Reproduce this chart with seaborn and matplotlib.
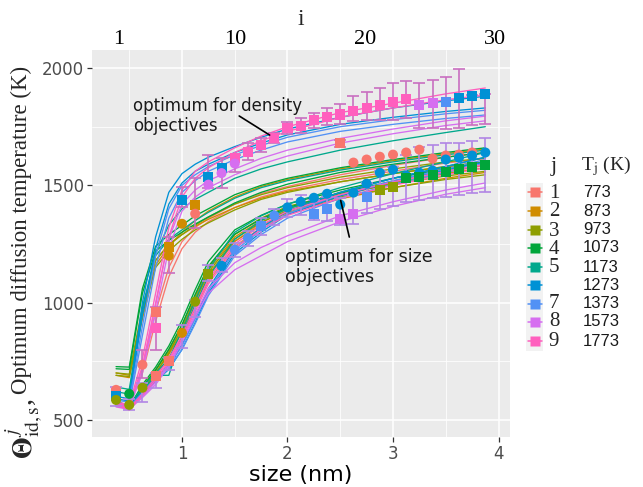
import numpy as np
import pandas as pd
import matplotlib
matplotlib.use("Agg")
import matplotlib.pyplot as plt
from matplotlib.lines import Line2D
from matplotlib.patches import Rectangle
import seaborn as sns

sns.set_theme(style="darkgrid")
plt.rcParams["font.family"] = ["DejaVu Sans"]
plt.rcParams["font.serif"] = ["Liberation Serif", "DejaVu Serif"]
plt.rcParams["mathtext.fontset"] = "stix"

# ---- temperature levels -------------------------------------------------
j_levels = [1, 2, 3, 4, 5, 6, 7, 8, 9]
j_marks = ["1", "2", "3", "4", "5", "", "7", "8", "9"]
T_levels = [773, 873, 973, 1073, 1173, 1273, 1373, 1573, 1773]
j_colors = ["#F8766D", "#D08C00", "#8E9E00", "#00A53A", "#00A88C",
            "#0091D5", "#5291F5", "#D66EF0", "#FF5FBE"]

# ---- optimum curves (two runs per level) ---------------------------------
knots = [0.375, 0.5, 0.625, 0.75, 0.875, 1.0, 1.125, 1.25, 1.5, 1.75, 2.0, 2.5, 3.0, 3.5, 3.875]

density_j1 = [[560, 555, 720, 960, 1150, 1260, 1320, 1360, 1420, 1465, 1495, 1545, 1585, 1620, 1640],
              [575, 565, 700, 920, 1110, 1230, 1300, 1345, 1405, 1450, 1480, 1525, 1560, 1595, 1615]]
density_j2 = [[690, 680, 930, 1160, 1240, 1300, 1350, 1390, 1450, 1495, 1525, 1570, 1605, 1635, 1655],
              [700, 690, 960, 1180, 1250, 1290, 1325, 1355, 1405, 1445, 1475, 1515, 1550, 1580, 1600]]
density_j3 = [[690, 685, 950, 1150, 1220, 1270, 1310, 1340, 1395, 1440, 1470, 1515, 1550, 1580, 1600],
              [700, 695, 980, 1180, 1245, 1290, 1330, 1365, 1420, 1460, 1490, 1535, 1570, 1600, 1615]]
density_j4 = [[727, 725, 1060, 1240, 1290, 1330, 1370, 1400, 1460, 1500, 1530, 1575, 1610, 1640, 1660],
              [718, 715, 1040, 1220, 1265, 1300, 1335, 1365, 1425, 1470, 1505, 1555, 1590, 1620, 1640]]
density_j5 = [[620, 610, 950, 1210, 1330, 1400, 1440, 1470, 1530, 1570, 1600, 1650, 1690, 1725, 1750],
              [640, 630, 980, 1200, 1270, 1310, 1350, 1385, 1445, 1490, 1520, 1565, 1600, 1630, 1650]]
density_j6 = [[600, 590, 1000, 1280, 1470, 1550, 1590, 1620, 1665, 1705, 1740, 1790, 1830, 1860, 1880],
              [590, 580, 950, 1230, 1420, 1510, 1560, 1590, 1640, 1680, 1715, 1760, 1790, 1815, 1830]]
density_j7 = [[585, 575, 900, 1200, 1400, 1500, 1545, 1580, 1630, 1670, 1705, 1750, 1780, 1805, 1820],
              [575, 565, 860, 1150, 1360, 1470, 1520, 1560, 1610, 1650, 1685, 1730, 1760, 1785, 1800]]
density_j8 = [[565, 555, 720, 1000, 1270, 1420, 1480, 1520, 1570, 1615, 1650, 1700, 1740, 1775, 1795],
              [560, 550, 700, 960, 1230, 1390, 1450, 1490, 1545, 1590, 1625, 1680, 1720, 1755, 1775]]
density_j9 = [[575, 565, 760, 1040, 1320, 1480, 1560, 1600, 1660, 1710, 1750, 1810, 1850, 1890, 1915],
              [570, 560, 730, 990, 1280, 1450, 1530, 1575, 1640, 1690, 1730, 1790, 1830, 1865, 1885]]

size_j1 = [[590, 545, 625, 700, 780, 870, 990, 1110, 1260, 1340, 1400, 1470, 1530, 1575, 1600],
           [578, 540, 610, 688, 765, 855, 975, 1090, 1240, 1320, 1380, 1455, 1510, 1555, 1585]]
size_j2 = [[582, 550, 640, 715, 790, 890, 1020, 1140, 1280, 1350, 1400, 1460, 1510, 1550, 1575],
           [572, 545, 628, 700, 780, 875, 1005, 1120, 1262, 1330, 1385, 1442, 1490, 1530, 1555]]
size_j3 = [[576, 550, 638, 712, 800, 905, 1030, 1150, 1290, 1360, 1410, 1465, 1505, 1540, 1560],
           [566, 545, 625, 700, 785, 890, 1010, 1130, 1272, 1342, 1392, 1450, 1490, 1525, 1545]]
size_j4 = [[580, 555, 650, 725, 815, 925, 1055, 1175, 1310, 1372, 1420, 1480, 1530, 1570, 1600],
           [570, 550, 640, 712, 800, 905, 1035, 1155, 1292, 1356, 1405, 1468, 1518, 1560, 1590]]
size_j5 = [[572, 560, 640, 700, 760, 880, 1010, 1140, 1300, 1370, 1420, 1490, 1550, 1600, 1640],
           [566, 550, 625, 690, 690, 860, 990, 1110, 1270, 1350, 1400, 1470, 1530, 1580, 1620]]
size_j6 = [[575, 560, 620, 678, 735, 820, 935, 1060, 1230, 1320, 1390, 1470, 1530, 1580, 1620],
           [565, 550, 610, 665, 715, 800, 915, 1040, 1210, 1300, 1375, 1455, 1515, 1565, 1600]]
size_j7 = [[570, 555, 615, 672, 730, 815, 930, 1050, 1220, 1310, 1380, 1460, 1520, 1570, 1610],
           [560, 548, 605, 662, 720, 800, 910, 1030, 1200, 1290, 1360, 1445, 1505, 1555, 1595]]
size_j8 = [[560, 550, 600, 660, 740, 840, 950, 1060, 1170, 1235, 1285, 1370, 1430, 1480, 1510],
           [555, 545, 595, 650, 730, 830, 940, 1040, 1140, 1200, 1260, 1345, 1410, 1462, 1490]]
size_j9 = [[565, 550, 612, 680, 760, 860, 980, 1100, 1250, 1330, 1390, 1460, 1515, 1560, 1590],
           [560, 545, 605, 670, 750, 848, 962, 1080, 1232, 1312, 1372, 1445, 1500, 1545, 1575]]

density_runs = [density_j1, density_j2, density_j3, density_j4, density_j5,
                density_j6, density_j7, density_j8, density_j9]
size_runs = [size_j1, size_j2, size_j3, size_j4, size_j5,
             size_j6, size_j7, size_j8, size_j9]

# ---- optimum points: density objectives ----------------------------------
dpt_size = [0.375, 0.625, 0.75, 0.75, 0.875, 0.875, 1.0, 1.0, 1.125, 1.125,
            1.25, 1.25, 1.375, 1.375, 1.5, 1.5, 1.625, 1.75, 1.875, 2.0,
            2.125, 2.25, 2.375, 2.5, 2.5, 2.625, 2.625, 2.75, 2.75, 2.875,
            2.875, 3.0, 3.0, 3.125, 3.125, 3.25, 3.25, 3.375, 3.375, 3.5,
            3.5, 3.625, 3.625, 3.75, 3.75, 3.875]
dpt_temp = [615, 735, 961, 893, 1238, 1200, 1336, 1439, 1418, 1379,
            1537, 1503, 1573, 1552, 1618, 1593, 1644, 1672, 1703, 1746,
            1755, 1778, 1793, 1802, 1682, 1815, 1597, 1831, 1610, 1844,
            1622, 1857, 1631, 1870, 1640, 1844, 1652, 1852, 1614, 1854,
            1627, 1874, 1631, 1880, 1640, 1891]
dpt_j = [9, 1, 1, 9, 2, 2, 2, 6, 2, 1,
         6, 8, 6, 8, 9, 8, 9, 9, 9, 9,
         9, 9, 9, 9, 1, 9, 1, 9, 1, 9,
         1, 9, 1, 9, 1, 8, 1, 8, 1, 7,
         1, 6, 1, 6, 1, 6]
dpt_shape = ["s", "o", "s", "s", "s", "o", "o", "s", "s", "o",
             "s", "o", "s", "o", "s", "o", "s", "s", "s", "s",
             "s", "s", "s", "s", "s", "s", "o", "s", "o", "s",
             "o", "s", "o", "s", "o", "s", "o", "s", "o", "s",
             "o", "s", "o", "s", "o", "s"]

# ---- optimum points: size objectives -------------------------------------
spt_size = [0.375, 0.375, 0.375, 0.5, 0.5, 0.625, 0.75, 0.875, 1.0, 1.125,
            1.25, 1.375, 1.5, 1.625, 1.75, 1.875, 2.0, 2.125, 2.25, 2.25,
            2.375, 2.375, 2.5, 2.5, 2.625, 2.625, 2.75, 2.75, 2.875, 2.875,
            3.0, 3.0, 3.125, 3.125, 3.25, 3.25, 3.375, 3.375, 3.5, 3.5,
            3.625, 3.625, 3.75, 3.75, 3.875, 3.875]
spt_temp = [628, 600, 585, 611, 564, 637, 688, 752, 871, 1004,
            1123, 1157, 1226, 1276, 1328, 1371, 1406, 1430, 1447, 1379,
            1464, 1400, 1418, 1358, 1469, 1379, 1507, 1452, 1554, 1482,
            1567, 1494, 1541, 1533, 1554, 1537, 1563, 1546, 1610, 1558,
            1618, 1571, 1627, 1580, 1640, 1588]
spt_j = [1, 6, 3, 4, 3, 3, 1, 1, 2, 3,
         3, 6, 7, 7, 7, 7, 6, 6, 6, 7,
         6, 7, 6, 8, 6, 8, 6, 7, 6, 3,
         6, 3, 6, 4, 6, 4, 6, 4, 6, 4,
         6, 4, 6, 4, 6, 4]
spt_shape = ["o", "s", "o", "o", "o", "o", "s", "s", "o", "o",
             "s", "o", "o", "o", "s", "o", "o", "o", "o", "s",
             "o", "s", "o", "s", "o", "s", "o", "s", "o", "s",
             "o", "s", "o", "s", "o", "s", "o", "s", "o", "s",
             "o", "s", "o", "s", "o", "s"]

# ---- spread of the optimum over runs (low / high) ------------------------
dbar_size = [0.625, 0.75, 0.875, 1.0, 1.125, 1.25, 1.375, 1.5, 1.625, 1.75,
             1.875, 2.0, 2.125, 2.25, 2.375, 2.5, 2.5, 2.625, 2.75, 2.875,
             3.0, 3.125, 3.25, 3.375, 3.5, 3.625, 3.75, 3.875]
dbar_low = [680, 800, 1127, 1409, 1320, 1490, 1490, 1558, 1610, 1640,
            1680, 1720, 1725, 1745, 1759, 1760, 1665, 1776, 1780, 1780,
            1780, 1785, 1746, 1746, 1740, 1746, 1759, 1762]
dbar_high = [800, 980, 1280, 1494, 1530, 1630, 1618, 1630, 1680, 1700,
             1725, 1770, 1785, 1810, 1829, 1845, 1695, 1883, 1900, 1915,
             1935, 1945, 1938, 1951, 1960, 1994, 1885, 1890]

sbar_size = [0.375, 0.5, 0.625, 0.75, 0.875, 1.0, 1.125, 1.25, 1.375, 1.5,
             1.625, 1.75, 1.875, 2.0, 2.125, 2.25, 2.375, 2.5, 2.625, 2.75,
             2.875, 3.0, 3.125, 3.25, 3.375, 3.5, 3.625, 3.75, 3.875]
sbar_low = [560, 540, 577, 637, 713, 807, 940, 1090, 1130, 1195,
            1240, 1290, 1330, 1365, 1375, 1354, 1350, 1332, 1335, 1383,
            1400, 1410, 1430, 1439, 1447, 1452, 1460, 1469, 1473]
sbar_high = [640, 590, 658, 700, 765, 905, 1012, 1160, 1190, 1255,
             1305, 1360, 1400, 1440, 1460, 1439, 1450, 1447, 1460, 1511,
             1560, 1580, 1630, 1665, 1673, 1680, 1682, 1691, 1703]

# top axis: index i of the size class
I1_SIZE, I_STEP = 0.40, 0.1231
i_ticks = [1, 10, 20, 30]

# ---- long-form tables ----------------------------------------------------
rows = []
for grp, runs in (("d", density_runs), ("s", size_runs)):
    for j, pair in zip(j_levels, runs):
        for r, vals in enumerate(pair):
            for x, y in zip(knots, vals):
                rows.append({"size": x, "temp": y, "j": j, "run": f"{grp}{j}{r}"})
lines_df = pd.DataFrame(rows)

pts_df = pd.DataFrame({
    "size": dpt_size + spt_size,
    "temp": dpt_temp + spt_temp,
    "j": dpt_j + spt_j,
    "shape": dpt_shape + spt_shape,
})

palette = dict(zip(j_levels, j_colors))

# ---- figure ---------------------------------------------------------------
W, H = 643, 487
fig = plt.figure(figsize=(W / 100, H / 100), dpi=100)
fig.patch.set_facecolor("white")

def fx(px):
    return px / W

def fy(py):
    return 1 - py / H

ax = fig.add_axes([fx(92), fy(437), (510 - 92) / W, (437 - 50) / H])
ax.set_facecolor("#EBEBEB")

sns.lineplot(data=lines_df, x="size", y="temp", hue="j", units="run",
             estimator=None, sort=False, palette=palette, lw=0.95,
             legend=False, ax=ax, zorder=2)

ax.errorbar(dbar_size, [(a + b) / 2 for a, b in zip(dbar_low, dbar_high)],
            yerr=[[(b - a) / 2 for a, b in zip(dbar_low, dbar_high)]] * 2,
            fmt="none", ecolor="#C96FC0", elinewidth=1.2, capsize=4.5,
            capthick=1.2, zorder=3)
ax.errorbar(sbar_size, [(a + b) / 2 for a, b in zip(sbar_low, sbar_high)],
            yerr=[[(b - a) / 2 for a, b in zip(sbar_low, sbar_high)]] * 2,
            fmt="none", ecolor="#B186E4", elinewidth=1.2, capsize=4.5,
            capthick=1.2, zorder=3)

sns.scatterplot(data=pts_df, x="size", y="temp", hue="j", style="shape",
                markers={"s": "s", "o": "o"}, palette=palette, s=52,
                edgecolor="none", linewidth=0, legend=False, ax=ax, zorder=4)

# annotations
ax.text(0.536, 1795, "optimum for density\nobjectives", fontsize=12,
        ha="left", va="center", color="#1a1a1a", linespacing=1.15, zorder=6)
ax.annotate("", xy=(1.853, 1708), xytext=(1.52, 1802),
            arrowprops=dict(arrowstyle="-", lw=1.2, color="black"), zorder=6)
ax.text(1.976, 1150, "optimum for size\nobjectives", fontsize=12.5,
        ha="left", va="center", color="#1a1a1a", linespacing=1.15, zorder=6)
ax.annotate("", xy=(2.592, 1268), xytext=(2.498, 1447),
            arrowprops=dict(arrowstyle="-", lw=1.2, color="black"), zorder=6)

# axes styling
ax.set_xlim(0.147, 4.109)
ax.set_ylim(427, 2077)
ax.set_xticks([1, 2, 3, 4])
ax.set_xticks([0.5, 1.5, 2.5, 3.5], minor=True)
ax.set_yticks([500, 1000, 1500, 2000])
ax.set_yticks([750, 1250, 1750], minor=True)
ax.grid(which="major", color="white", lw=1.15)
ax.grid(which="minor", color="white", lw=0.55)
ax.set_axisbelow(True)
for sp in ax.spines.values():
    sp.set_visible(False)
ax.tick_params(which="major", direction="out", length=3.5, width=0.9,
               color="#333333", labelsize=12, labelcolor="#4D4D4D", pad=2,
               bottom=True, left=True)
ax.tick_params(which="minor", length=0)
ax.set_xlabel("size (nm)", fontsize=16, color="black", labelpad=2)
ax.set_ylabel("")

sec = ax.secondary_xaxis(
    "top",
    functions=(lambda s: (np.asarray(s) - I1_SIZE) / I_STEP + 1,
               lambda i: (np.asarray(i) - 1) * I_STEP + I1_SIZE))
sec.set_xticks(i_ticks)
sec.set_xticklabels([str(t) for t in i_ticks], family="serif", fontsize=16)
sec.tick_params(length=0, pad=1, labelcolor="black")
for sp in sec.spines.values():
    sp.set_visible(False)
sec.set_xlabel("i", family="serif", fontsize=17, labelpad=3)

# y axis title
fig.text(fx(24), fy(398), r"$\mathbf{\Theta}^{\,j}_{\mathrm{id,s}}$,", rotation=90,
         ha="center", va="top", fontsize=20, family="serif")
fig.text(fx(21), fy(394), "Optimum diffusion temperature (K)", rotation=90,
         ha="center", va="bottom", fontsize=16.5, family="serif")

# legend
row_y = [192, 211, 230, 248, 267, 285, 304, 322, 341]
mark_y = [193, 212, 231, 250, 268, 286, 303, 322, 341]
fig.add_artist(Rectangle((fx(526), fy(351)), 17 / W, (351 - 183) / H,
                         transform=fig.transFigure, color="#F2F2F2", lw=0))
for c, y in zip(j_colors, row_y):
    fig.add_artist(Line2D([fx(527.5), fx(541.5)], [fy(y), fy(y)], color=c,
                          lw=1.1, transform=fig.transFigure))
    fig.add_artist(Line2D([fx(534.5)], [fy(y)], marker="s", ms=6.5, color=c,
                          mec="none", transform=fig.transFigure))
for lab, y in zip(j_marks, mark_y):
    if lab:
        fig.text(fx(554), fy(y), lab, ha="center", va="center",
                 family="serif", fontsize=15)
for T, y in zip(T_levels, row_y):
    fig.text(fx(583), fy(y), str(T), ha="left", va="center",
             family="Liberation Sans", fontsize=12, color="#1a1a1a")
fig.text(fx(554), fy(166), "j", ha="center", va="center", family="serif",
         fontsize=16)
fig.text(fx(581), fy(166), r"T$_\mathrm{j}$ (K)", ha="left", va="center",
         family="serif", fontsize=14)

fig.savefig("out.png", dpi=100)
